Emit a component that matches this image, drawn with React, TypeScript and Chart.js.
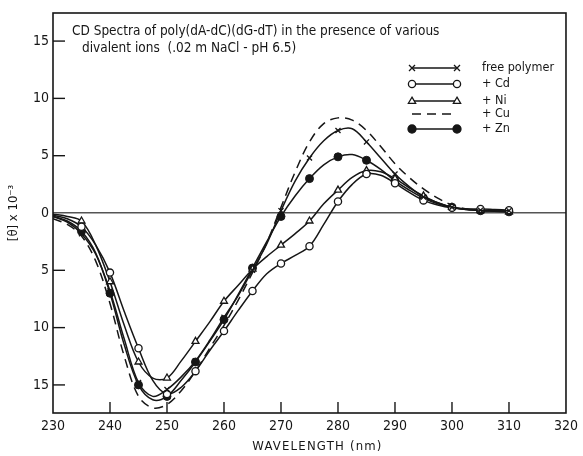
import React, { useEffect, useRef } from "react";
import { Chart, registerables } from "chart.js";

Chart.register(...registerables);

// ---------- data ----------
const WAVELENGTHS = [
  230, 232.5, 235, 237.5, 240, 242.5, 245, 247.5, 250, 252.5, 255, 257.5, 260, 262.5, 265, 267.5,
  270, 272.5, 275, 277.5, 280, 282.5, 285, 287.5, 290, 292.5, 295, 297.5, 300, 302.5, 305, 307.5, 310,
];

const FREE_POLYMER = [
  -0.3, -0.8, -1.8, -3.6, -6.8, -11.0, -14.8, -16.0, -15.4, -14.3, -12.9, -11.1, -9.1, -7.2, -5.0, -2.7,
  0.2, 2.8, 4.8, 6.3, 7.2, 7.35, 6.2, 4.8, 3.4, 2.3, 1.4, 0.9, 0.5, 0.35, 0.25, 0.2, 0.2,
];

const CD = [
  -0.2, -0.5, -1.2, -2.8, -5.2, -8.6, -11.8, -14.6, -15.8, -15.2, -13.8, -12.0, -10.3, -8.5, -6.8, -5.3,
  -4.4, -3.7, -2.9, -1.0, 1.0, 2.5, 3.4, 3.3, 2.6, 1.8, 1.1, 0.7, 0.45, 0.35, 0.35, 0.3, 0.25,
];

const NI = [
  -0.1, -0.3, -0.7, -2.8, -6.0, -9.8, -13.0, -14.4, -14.4, -12.9, -11.2, -9.5, -7.7, -6.3, -4.9, -3.8,
  -2.8, -1.8, -0.7, 0.8, 2.0, 3.1, 3.7, 3.6, 3.0, 2.2, 1.5, 0.9, 0.5, 0.3, 0.2, 0.15, 0.1,
];

const CU = [
  -0.5, -1.0, -2.0, -4.2, -7.9, -12.5, -16.0, -17.0, -16.7, -15.5, -13.8, -11.8, -9.8, -7.6, -5.2, -2.6,
  0.5, 3.6, 6.2, 7.8, 8.3, 8.1, 7.2, 5.8, 4.3, 3.1, 2.1, 1.3, 0.7, 0.35, 0.2, null, null,
];

const ZN = [
  -0.3, -0.7, -1.6, -3.5, -7.0, -11.5, -15.0, -16.3, -16.0, -14.6, -13.0, -11.2, -9.3, -7.1, -4.8, -2.5,
  -0.3, 1.5, 3.0, 4.2, 4.9, 5.1, 4.6, 3.8, 2.8, 2.0, 1.3, 0.8, 0.5, 0.3, 0.2, 0.15, 0.1,
];

const X_TICKS = [230, 240, 250, 260, 270, 280, 290, 300, 310, 320];
const Y_TICKS = [-15, -10, -5, 0, 5, 10, 15];

const TITLE_LINES = [
  "CD Spectra of poly(dA-dC)(dG-dT) in the presence of various",
  "divalent ions  (.02 m NaCl - pH 6.5)",
];
const LEGEND_LABELS = ["free polymer", "+ Cd", "+ Ni", "+ Cu", "+ Zn"];
const X_TITLE = "WAVELENGTH (nm)";
const Y_TITLE = "[θ] x 10⁻³";

// ---------- style ----------
const FONT = "'DejaVu Sans Condensed', 'Liberation Sans Narrow', 'DejaVu Sans', sans-serif";
const INK = "#161616";

const markEvery5 = (r: number) => (ctx: any) => {
  const w = WAVELENGTHS[ctx.dataIndex];
  return w >= 235 && w % 5 === 0 ? r : 0;
};

function drawMarker(ctx: CanvasRenderingContext2D, kind: string, x: number, y: number) {
  ctx.save();
  ctx.strokeStyle = INK;
  ctx.lineWidth = 1.3;
  ctx.setLineDash([]);
  if (kind === "cross") {
    const r = 3;
    ctx.beginPath();
    ctx.moveTo(x - r, y - r);
    ctx.lineTo(x + r, y + r);
    ctx.moveTo(x + r, y - r);
    ctx.lineTo(x - r, y + r);
    ctx.stroke();
  } else if (kind === "circle" || kind === "dot") {
    ctx.beginPath();
    ctx.arc(x, y, kind === "dot" ? 4 : 3.6, 0, Math.PI * 2);
    ctx.fillStyle = kind === "dot" ? INK : "#fff";
    ctx.fill();
    ctx.stroke();
  } else if (kind === "triangle") {
    const r = 3.8;
    ctx.beginPath();
    ctx.moveTo(x, y - r);
    ctx.lineTo(x + r * 0.95, y + r * 0.6);
    ctx.lineTo(x - r * 0.95, y + r * 0.6);
    ctx.closePath();
    ctx.fillStyle = "#fff";
    ctx.fill();
    ctx.stroke();
  }
  ctx.restore();
}

export default function App() {
  const ref = useRef<HTMLCanvasElement>(null);

  useEffect(() => {
    const canvas = ref.current;
    if (!canvas) return;

    const series = [
      { label: LEGEND_LABELS[0], values: FREE_POLYMER, marker: "cross", dash: [] as number[] },
      { label: LEGEND_LABELS[1], values: CD, marker: "circle", dash: [] as number[] },
      { label: LEGEND_LABELS[2], values: NI, marker: "triangle", dash: [] as number[] },
      { label: LEGEND_LABELS[3], values: CU, marker: "none", dash: [9, 6] },
      { label: LEGEND_LABELS[4], values: ZN, marker: "dot", dash: [] as number[] },
    ];

    const styleFor = (m: string): any => {
      if (m === "cross")
        return { pointStyle: "crossRot", pointRadius: markEvery5(3.6), pointBorderWidth: 1.3, pointBackgroundColor: INK };
      if (m === "circle")
        return { pointStyle: "circle", pointRadius: markEvery5(3.6), pointBorderWidth: 1.3, pointBackgroundColor: "#fff" };
      if (m === "triangle")
        return { pointStyle: "triangle", pointRadius: markEvery5(4), pointBorderWidth: 1.3, pointBackgroundColor: "#fff" };
      if (m === "dot")
        return { pointStyle: "circle", pointRadius: markEvery5(4), pointBorderWidth: 1, pointBackgroundColor: INK };
      return { pointRadius: 0 };
    };

    const frame = {
      id: "frame",
      afterDraw(chart: any) {
        const { ctx, chartArea: a, scales } = chart;
        ctx.save();
        // border
        ctx.strokeStyle = INK;
        ctx.lineWidth = 1.6;
        ctx.setLineDash([]);
        ctx.strokeRect(a.left, a.top, a.right - a.left, a.bottom - a.top);
        // inward ticks
        ctx.lineWidth = 1.4;
        X_TICKS.forEach((v) => {
          if (v === X_TICKS[0] || v === X_TICKS[X_TICKS.length - 1]) return;
          const x = scales.x.getPixelForValue(v);
          ctx.beginPath();
          ctx.moveTo(x, a.bottom);
          ctx.lineTo(x, a.bottom - 11);
          ctx.stroke();
        });
        Y_TICKS.forEach((v) => {
          if (v === 0) return;
          const y = scales.y.getPixelForValue(v);
          ctx.beginPath();
          ctx.moveTo(a.left, y);
          ctx.lineTo(a.left + 12, y);
          ctx.stroke();
        });

        // heading inside the plot
        ctx.fillStyle = INK;
        ctx.font = `13.5px ${FONT}`;
        ctx.textBaseline = "middle";
        ctx.textAlign = "left";
        ctx.fillText(TITLE_LINES[0], 72, 31);
        ctx.fillText(TITLE_LINES[1], 82, 48);

        // x-axis title, letter-spaced like the original lettering
        ctx.font = `13px ${FONT}`;
        ctx.textAlign = "center";
        try {
          (ctx as any).letterSpacing = "1.2px";
        } catch (e) {}
        ctx.fillText(X_TITLE, (a.left + a.right) / 2 + 8, 447);
        try {
          (ctx as any).letterSpacing = "0px";
        } catch (e) {}

        // legend
        const rows = [68, 84, 101, 114, 129];
        series.forEach((s, i) => {
          const y = rows[i];
          ctx.save();
          ctx.strokeStyle = INK;
          ctx.lineWidth = 1.5;
          ctx.setLineDash(s.dash);
          ctx.beginPath();
          ctx.moveTo(412, y);
          ctx.lineTo(457, y);
          ctx.stroke();
          ctx.restore();
          if (s.marker !== "none") {
            drawMarker(ctx, s.marker, 412, y);
            drawMarker(ctx, s.marker, 457, y);
          }
          ctx.fillStyle = INK;
          ctx.font = `12.5px ${FONT}`;
          ctx.textBaseline = "middle";
          ctx.textAlign = "left";
          ctx.fillText(s.label, 482, y);
        });
        ctx.restore();
      },
    };

    const chart = new Chart(canvas, {
      type: "line",
      data: {
        datasets: series.map((s) => ({
          label: s.label,
          data: WAVELENGTHS.map((x, i) => ({ x, y: s.values[i] })),
          borderColor: INK,
          borderWidth: 1.5,
          borderDash: s.dash,
          pointBorderColor: INK,
          tension: 0.35,
          spanGaps: false,
          ...styleFor(s.marker),
        })),
      },
      options: {
        animation: false,
        responsive: false,
        devicePixelRatio: 1,
        layout: { padding: { top: 13, right: 12, left: 0, bottom: 0 } },
        plugins: { legend: { display: false }, tooltip: { enabled: false } },
        scales: {
          x: {
            type: "linear",
            min: 230,
            max: 320,
            afterFit: (s: any) => {
              s.height = 43;
            },
            afterBuildTicks: (s: any) => {
              s.ticks = X_TICKS.map((value) => ({ value }));
            },
            ticks: { color: INK, padding: 5, font: { family: FONT, size: 14 }, maxRotation: 0, autoSkip: false },
            grid: { display: false, drawTicks: false },
            border: { display: false },
            title: { display: false },
          },
          y: {
            type: "linear",
            min: -17.45,
            max: 17.45,
            afterFit: (s: any) => {
              s.width = 53;
            },
            afterBuildTicks: (s: any) => {
              s.ticks = Y_TICKS.map((value) => ({ value }));
            },
            ticks: {
              color: INK,
              padding: 4,
              font: { family: FONT, size: 14 },
              callback: (v: any) => String(Math.abs(Number(v))),
            },
            grid: {
              drawTicks: false,
              lineWidth: 1.6,
              color: (c: any) => (c.tick && c.tick.value === 0 ? "#555" : "rgba(0,0,0,0)"),
            },
            border: { display: false },
            title: {
              display: true,
              text: Y_TITLE,
              color: INK,
              font: { family: FONT, size: 13 },
              padding: { top: 6, bottom: 0 },
            },
          },
        },
      },
      plugins: [frame],
    });

    return () => chart.destroy();
  }, []);

  return (
    <div style={{ position: "fixed", left: 0, top: 0, width: 583, height: 456, background: "#fff" }}>
      <canvas ref={ref} width={583} height={456} style={{ width: 583, height: 456, display: "block" }} />
    </div>
  );
}
